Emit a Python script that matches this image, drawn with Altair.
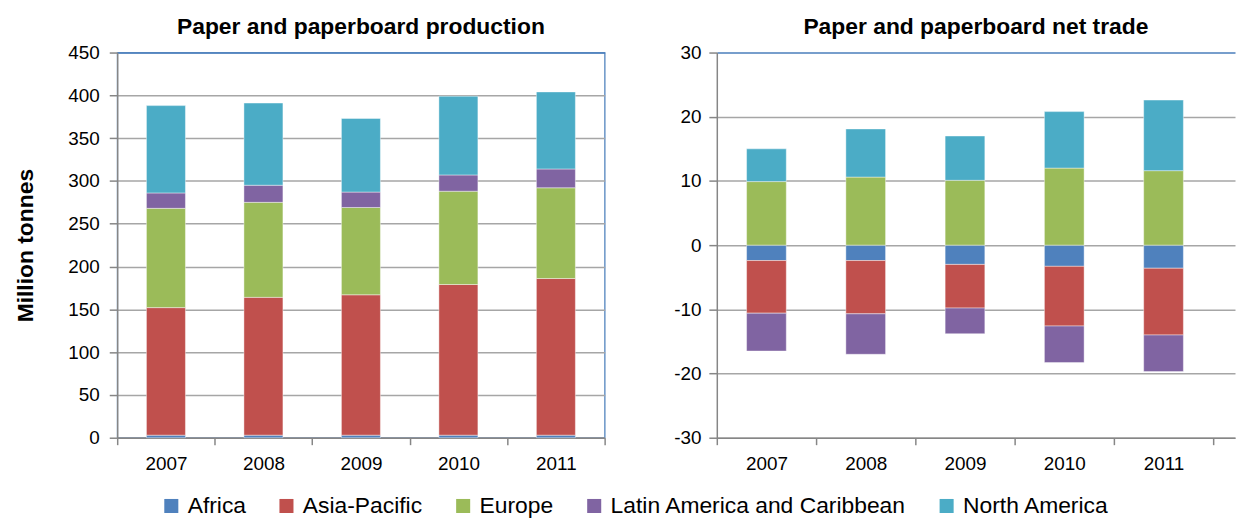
import altair as alt
import pandas as pd

years = ["2007", "2008", "2009", "2010", "2011"]
regions = ["Africa", "Asia-Pacific", "Europe", "Latin America and Caribbean", "North America"]
colors = ["#4F81BD", "#C0504D", "#9BBB59", "#8064A2", "#4BACC6"]

# Paper and paperboard production (million tonnes)
prod_africa = [3, 3, 3, 3, 3]
prod_asia = [149, 161, 164, 176, 183]
prod_europe = [116, 111, 102, 109, 106]
prod_latin = [18, 20, 18, 19, 22]
prod_na = [102, 96, 86, 92, 90]

# Paper and paperboard net trade (million tonnes)
trade_africa = [-2.4, -2.4, -3.0, -3.3, -3.6]
trade_asia = [-8.2, -8.3, -6.8, -9.3, -10.4]
trade_europe = [9.9, 10.6, 10.1, 12.0, 11.6]
trade_latin = [-5.9, -6.3, -4.0, -5.7, -5.7]
trade_na = [5.1, 7.5, 6.9, 8.8, 11.0]


def make_df(series):
    rows = []
    for i, (reg, vals) in enumerate(zip(regions, series)):
        for y, v in zip(years, vals):
            rows.append({"year": y, "region": reg, "value": v, "idx": i})
    return pd.DataFrame(rows)


prod_df = make_df([prod_africa, prod_asia, prod_europe, prod_latin, prod_na])
trade_df = make_df([trade_africa, trade_asia, trade_europe, trade_latin, trade_na])

FONT = "Liberation Sans"

legend = alt.Legend(
    title=None, orient="none", direction="horizontal",
    legendX=43, legendY=445,
    symbolType="square", symbolSize=200, symbolStrokeWidth=0,
    labelFont=FONT, labelFontSize=23, labelColor="black",
    labelOffset=5, columnPadding=29, labelLimit=400,
)


def panel(df, title, dom, vals, width, po, ytitle, top_val, tick_pad, view_stroke):
    axis_kwargs = dict(
        values=vals, tickSize=8, labelPadding=tick_pad,
        labelExpr="replace(datum.label, '\u2212', '-')",
        gridColor=alt.condition(f"datum.value == {top_val}", alt.value("#4A7EBB"), alt.value("#A6A6A6")),
    )
    if ytitle:
        axis_kwargs.update(title=ytitle, titleFont=FONT, titleFontSize=23,
                           titleFontWeight="bold", titlePadding=31, titleColor="black")
    else:
        axis_kwargs.update(title=None)
    return alt.Chart(df).mark_bar(
        width=alt.RelativeBandSize(0.4), stroke="white", strokeWidth=0.6, strokeOpacity=0.7
    ).encode(
        x=alt.X("year:N", sort=years,
                scale=alt.Scale(paddingInner=0, paddingOuter=po, align=0),
                axis=alt.Axis(title=None, labelAngle=0, tickBand="extent", tickSize=7,
                              labelPadding=10, grid=False)),
        y=alt.Y("value:Q", stack="zero",
                scale=alt.Scale(domain=dom, nice=False, zero=False),
                axis=alt.Axis(**axis_kwargs)),
        color=alt.Color("region:N", sort=regions,
                        scale=alt.Scale(domain=regions, range=colors), legend=legend),
        order=alt.Order("idx:Q"),
    ).properties(
        width=width, height=388,
        view=alt.ViewBackground(stroke=view_stroke, strokeWidth=1.25),
        title=alt.TitleParams(title, fontSize=23, font=FONT, fontWeight="bold",
                              anchor="middle", offset=5, color="black"),
    )


left = panel(prod_df, "Paper and paperboard production", [0, 450],
             list(range(0, 451, 50)), 491, 0, "Million tonnes", 450, 10, "#4A7EBB")
right = panel(trade_df, "Paper and paperboard net trade", [-30, 30],
              list(range(-30, 31, 10)), 522, 0.11, None, 30, 8, "transparent")

chart = alt.hconcat(left, right, spacing=66).resolve_scale(color="shared").properties(
    padding={"left": 5, "top": 5, "right": 0, "bottom": 0}
).configure_axis(
    labelFont=FONT, labelFontSize=19, labelColor="black",
    domainColor="#868686", domainWidth=1.5,
    tickColor="#868686", tickWidth=1.5,
    gridWidth=1.5,
)

chart.save("out.html", embed_options={"renderer": "svg", "actions": False})
